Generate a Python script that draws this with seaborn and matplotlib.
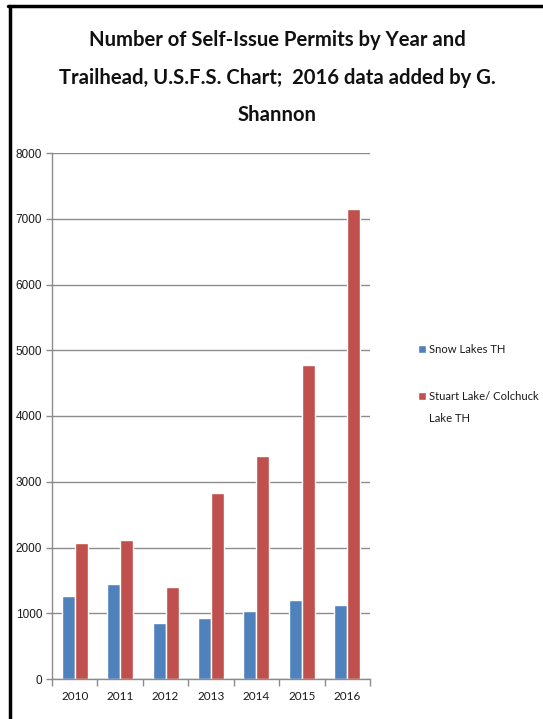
import matplotlib
matplotlib.use("Agg")
import matplotlib.pyplot as plt
from matplotlib.lines import Line2D
from matplotlib.patches import Rectangle
from matplotlib.legend_handler import HandlerPatch
from matplotlib.textpath import TextPath
from matplotlib.font_manager import FontProperties
import seaborn as sns
import pandas as pd
import numpy as np

years = ["2010", "2011", "2012", "2013", "2014", "2015", "2016"]
snow_lakes = [1262, 1440, 855, 935, 1035, 1200, 1125]
stuart_colchuck = [2072, 2118, 1396, 2826, 3385, 4776, 7145]
series_names = ["Snow Lakes TH", "Stuart Lake/ Colchuck\nLake TH"]
colors = ["#4F81BD", "#C0504D"]
title_lines = ["Number of Self-Issue Permits by Year and",
               "Trailhead, U.S.F.S. Chart;  2016 data added by G.",
               "Shannon"]

df = pd.DataFrame({
    "Year": years * 2,
    "Permits": snow_lakes + stuart_colchuck,
    "Trailhead": [series_names[0]] * len(years) + [series_names[1]] * len(years),
})

sns.set_theme(style="white")
HUMANIST = ["Lato", "DejaVu Sans"]
plt.rcParams["font.family"] = HUMANIST


def fit_size(text, target_px, weight="normal", family="Lato"):
    """font size (pt, at 100 dpi) giving the wanted rendered width"""
    fp = FontProperties(family=family, weight=weight, size=10)
    w = TextPath((0, 0), text, prop=fp).get_extents().width
    w_px = w * 100 / 72
    return 10 * target_px / w_px


W, H = 543, 719
fig = plt.figure(figsize=(W / 100, H / 100), dpi=100)
fig.patch.set_facecolor("white")
ax = fig.add_axes([52 / W, 1 - 679 / H, (370 - 52) / W, (679 - 153) / H])

sns.barplot(data=df, x="Year", y="Permits", hue="Trailhead", order=years,
            hue_order=series_names, palette=colors, width=0.57,
            saturation=1, ax=ax, legend=True)

ax.set_ylim(0, 8000)
ax.set_yticks(np.arange(0, 8001, 1000))
ax.set_xlim(-0.5, len(years) - 0.5)
ax.yaxis.grid(True, color="#8c8c8c", linewidth=1.0)
ax.set_axisbelow(True)
for s in ["top", "right"]:
    ax.spines[s].set_visible(False)
for s in ["left", "bottom"]:
    ax.spines[s].set_color("#8c8c8c")
    ax.spines[s].set_linewidth(1.0)
ax.set_xlabel("")
ax.set_ylabel("")

ax.tick_params(axis="y", which="major", length=4, width=1, color="#8c8c8c",
               direction="out", left=True, pad=3, labelsize=8.5, labelcolor="#1a1a1a")
for lbl in ax.get_yticklabels():
    lbl.set_fontfamily(["Liberation Sans", "DejaVu Sans"])
ax.set_xticks(range(len(years)))
ax.set_xticklabels(years)
ax.tick_params(axis="x", which="major", length=0, pad=9,
               labelsize=1.1 * fit_size("2010", 24), labelcolor="#1a1a1a")
ax.set_xticks(np.arange(-0.5, len(years), 1.0), minor=True)
ax.tick_params(axis="x", which="minor", length=5, width=1, color="#8c8c8c",
               direction="out", bottom=True)


def raised_patch(legend, orig_handle, xdescent, ydescent, width, height, fontsize):
    # align the swatch with the first line of a two-line label
    return Rectangle((-xdescent, -ydescent + 8.3), width, height)


handles, labels = ax.get_legend_handles_labels()
leg_size = 1.1 * fit_size("Snow Lakes TH", 68)
leg = ax.legend(handles, labels, loc="upper left",
                bbox_to_anchor=(418 / W, 1 - 344 / H),
                bbox_transform=fig.transFigure, frameon=False,
                handlelength=0.7, handleheight=0.7, handletextpad=0.25,
                labelspacing=3.2, fontsize=leg_size, borderaxespad=0, borderpad=0,
                handler_map={handles[1]: HandlerPatch(patch_func=raised_patch)})
for t in leg.get_texts():
    t.set_color("#1a1a1a")
    t.set_linespacing(2.2)

title_size = 1.06 * fit_size(title_lines[0], 353, weight="bold")
ys = [40, 78, 115]
for line, y in zip(title_lines, ys):
    fig.text(277 / W, 1 - y / H, line, ha="center", va="center",
             fontsize=title_size, fontweight="bold", color="#111111")

fig.add_artist(Line2D([8 / W, 1.0], [1 - 5.5 / H, 1 - 5.5 / H],
                      transform=fig.transFigure, color="black", linewidth=2.5))
fig.add_artist(Line2D([9.5 / W, 9.5 / W], [0, 1 - 5.5 / H],
                      transform=fig.transFigure, color="black", linewidth=2.5))

fig.savefig("out.png", dpi=100, facecolor="white")
